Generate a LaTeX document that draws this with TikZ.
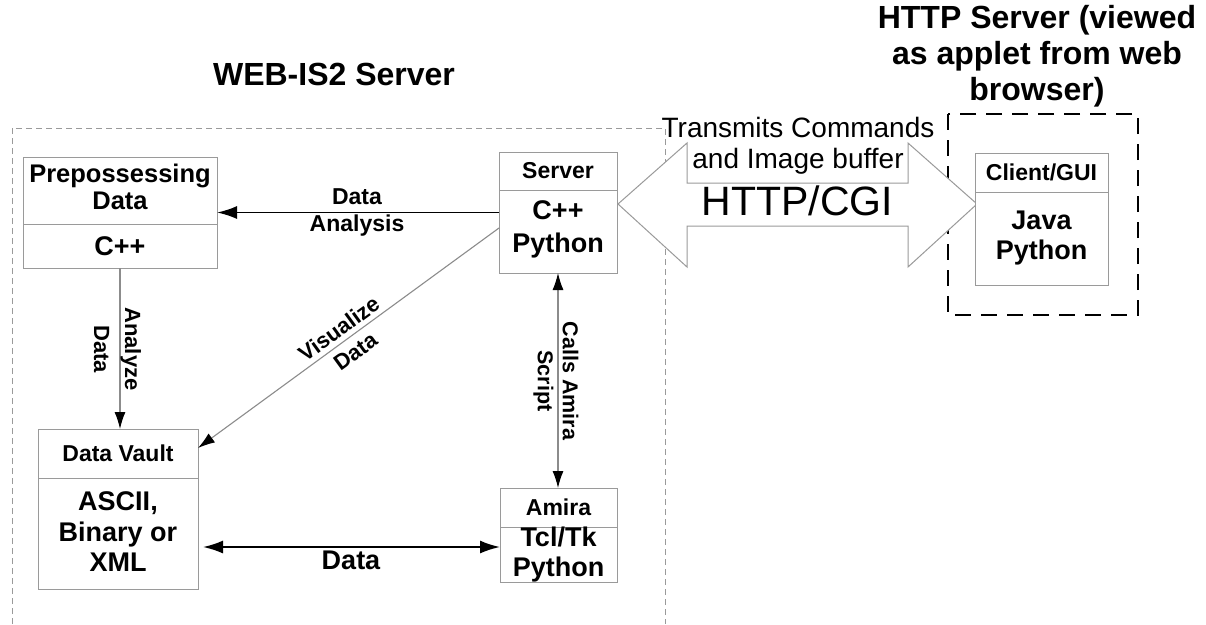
\documentclass[tikz,border=0pt]{standalone}
\usepackage{fontspec}
\setmainfont{Liberation Sans}
\usetikzlibrary{arrows.meta}
\definecolor{boxgray}{HTML}{9A9A9A}
\definecolor{lngray}{HTML}{8C8C8C}
\newcommand{\fs}[2]{\fontsize{#1}{#2}\selectfont}
\begin{document}
\begin{tikzpicture}[x=1pt,y=-1pt,
  box/.style={draw=boxgray, line width=1pt, fill=white, inner sep=0pt, outer sep=0pt, anchor=north west},
  divider/.style={draw=boxgray, line width=1pt},
  hdr/.style={font=\bfseries\fs{23}{27}, align=center, inner sep=0pt},
  body/.style={font=\bfseries\fs{27}{30.5}, align=center, inner sep=0pt},
  lbl/.style={font=\bfseries\fs{22}{28}, align=center, inner sep=0pt},
  dk/.style={draw=black, line width=1.8pt},
  gl/.style={draw=lngray, line width=1.1pt},
  bigtip/.style={-{Latex[length=20pt,width=13pt,black]}},
  bigtips/.style={{Latex[length=20pt,width=13pt,black]}-{Latex[length=20pt,width=13pt,black]}},
  smtip/.style={-{Latex[length=17pt,width=11pt,black]}},
  smtips/.style={{Latex[length=17pt,width=11pt,black]}-{Latex[length=17pt,width=11pt,black]}},
  ttl/.style={font=\bfseries\fs{32}{36}, align=center, inner sep=0pt}
]
\useasboundingbox (0,0) rectangle (1206,624);
\fill[white] (0,0) rectangle (1206,624);

% titles
\node[ttl] (webttl) at (334,74) {WEB-IS2 Server};
\node[ttl] (httpttl) at (1037,56) {HTTP Server (viewed\\as applet from web\\browser)};

% outer dashed regions
\draw[boxgray, line width=1pt, dash pattern=on 6pt off 4pt] (12,624) -- (12,128) -- (665,128) -- (665,624);
\draw[black, line width=2pt, dash pattern=on 16pt off 10pt] (948,114) rectangle (1138,315);

% big double arrow
\draw[draw=boxgray, fill=white, line width=1pt]
  (618,204) -- (687,143) -- (687,183) -- (908,183) -- (908,143) -- (977,204)
  -- (908,267) -- (908,226) -- (687,226) -- (687,267) -- cycle;
\node[font=\fs{28}{31}, align=center, inner sep=0pt] (trans) at (798,145.5) {Transmits Commands\\and Image buffer};
\node[font=\fs{41}{45}, inner sep=0pt] (httpcgi) at (797.5,200.5) {HTTP/CGI};

% boxes
\node[box, minimum width=194pt, minimum height=111pt] (prep) at (23,157) {};
\draw[divider] (prep.west |- 0,224) -- (prep.east |- 0,224);
\node[font=\bfseries\fs{25.5}{27}, align=center, inner sep=0pt] (prepH) at (120,187) {Prepossessing\\Data};
\node[body] (prepB) at (120,246) {C++};

\node[box, minimum width=118pt, minimum height=121pt] (srv) at (499,152) {};
\draw[divider] (srv.west |- 0,190) -- (srv.east |- 0,190);
\node[hdr] (srvH) at (558,171) {Server};
\node[body, font=\bfseries\fs{27}{33}] (srvB) at (558,229) {C++\\Python};

\node[box, minimum width=160pt, minimum height=160pt] (dv) at (38,429) {};
\draw[divider] (dv.west |- 0,478) -- (dv.east |- 0,478);
\node[hdr] (dvH) at (118,453) {Data Vault};
\node[body] (dvB) at (118,532) {ASCII,\\Binary or\\XML};

\node[box, minimum width=117pt, minimum height=94pt] (am) at (500,488) {};
\draw[divider] (am.west |- 0,527) -- (am.east |- 0,527);
\node[hdr] (amH) at (558.5,507) {Amira};
\node[body, font=\bfseries\fs{27}{30}] (amB) at (558.5,555) {Tcl/Tk\\Python};

\node[box, minimum width=133pt, minimum height=132pt] (cli) at (975,153) {};
\draw[divider] (cli.west |- 0,192) -- (cli.east |- 0,192);
\node[hdr] (cliH) at (1041.5,172) {Client/GUI};
\node[body, font=\bfseries\fs{27}{30}] (cliB) at (1041.5,238) {Java\\Python};

% connectors
\draw[dk, bigtip] (srv.west |- prep.east) -- (prep.east);
\node[font=\bfseries\fs{23}{27}, align=center, inner sep=0pt] (lblDA) at (357,212.5) {Data\\Analysis};

\draw[gl, smtip] ([yshift=-15.5pt]srv.west) -- ([yshift=-19pt]dv.north east);
\node[lbl, rotate=36] (lblVD) at (347,340) {Visualize\\Data};

\draw[gl, smtip] (prep.south |- prep.south) -- (prep.south |- dv.north);
\node[lbl, font=\bfseries\fs{22}{31}, rotate=-90] (lblAD) at (117.5,349) {Analyze\\Data};

\draw[gl, smtips] (srv.south) -- (srv.south |- am.north);
\node[lbl, font=\bfseries\fs{21.5}{25}, rotate=-90] (lblCA) at (556,381) {Calls Amira\\Script};

\coordinate (dvR) at (203,547);
\draw[dk, bigtips] (dvR) -- (dvR -| am.west);
\node[font=\bfseries\fs{27}{30}, inner sep=0pt] (lblD) at (351,560.5) {Data};
\end{tikzpicture}
\end{document}
